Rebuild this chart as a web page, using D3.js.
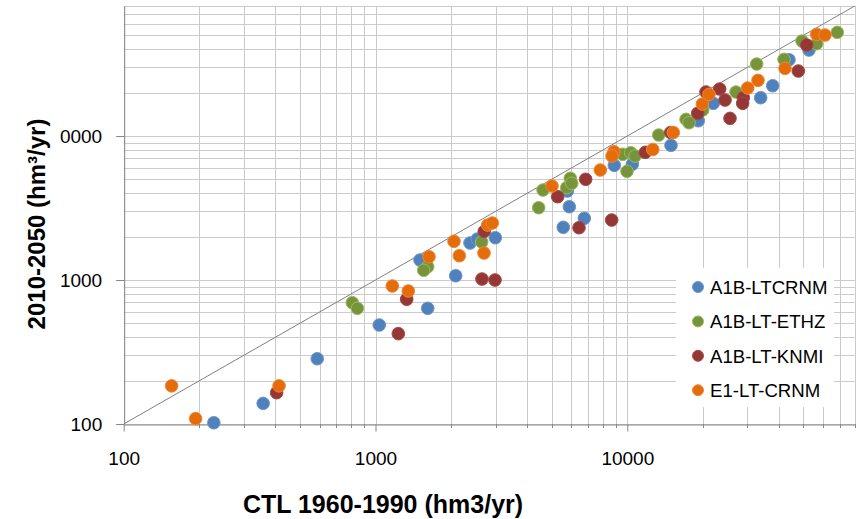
<!DOCTYPE html>
<html>
<head>
<meta charset="utf-8">
<script src="https://cdn.jsdelivr.net/npm/d3@7"></script>
<style>
  html, body { margin: 0; padding: 0; background: #fff; }
  svg { display: block; }
</style>
</head>
<body>
<svg id="chart" width="864" height="519"></svg>
<script>
// series names and values (hm3/yr)
const seriesNames = ["A1B-LTCRNM", "A1B-LT-ETHZ", "A1B-LT-KNMI", "E1-LT-CRNM"]
const seriesColors = ["#4f81bd", "#77933c", "#953735", "#e46c0a"]
const seriesStroke = ["#6f97c9", "#9bbb59", "#a54a48", "#ef8734"]

const crnmCtl = [228, 358, 587, 1035, 1612, 1502, 2082, 2373, 2537, 2991, 5568, 5885, 6750, 5777, 8880, 10470, 14910, 19140, 21960, 33860, 37800, 43870, 52670]
const crnmFut = [102, 139, 284, 487, 636, 1377, 1071, 1807, 1926, 1967, 2323, 3228, 2683, 4150, 6259, 6360, 8620, 12770, 16870, 18450, 22350, 33870, 39560]

const ethzCtl = [809, 847, 1612, 1554, 2641, 4447, 4627, 5745, 5938, 6015, 9588, 10316, 10730, 9972, 13330, 17110, 17580, 19930, 27020, 32650, 41910, 49410, 56520, 68230]
const ethzFut = [696, 636, 1237, 1168, 1836, 3177, 4217, 4375, 5085, 4694, 7463, 7656, 7262, 5686, 10160, 13060, 12370, 15160, 20210, 31620, 34080, 45660, 43750, 52500]

const knmiCtl = [405, 1232, 1330, 2704, 2648, 2983, 5291, 6430, 6834, 8670, 11790, 14870, 19040, 20540, 23280, 24440, 25580, 28880, 28720, 47770, 51580]
const knmiFut = [165, 424, 735, 2178, 1016, 1000, 3789, 2308, 5004, 2610, 7705, 10580, 14380, 20210, 21210, 17780, 13270, 18450, 16870, 28280, 42850]

const e1Ctl = [155, 193, 414, 1166, 1350, 1631, 2050, 2152, 2697, 2790, 2910, 5023, 7812, 8856, 8696, 12620, 15230, 19860, 21110, 30070, 33040, 42300, 56520, 60980]
const e1Fut = [184, 109, 184, 909, 839, 1451, 1857, 1475, 1540, 2409, 2488, 4497, 5806, 7780, 7262, 8058, 10580, 16680, 19480, 21540, 24370, 29520, 50850, 50280]

const axisMin = 100
const axisMax = 80000
const majorTicks = [100, 1000, 10000]

const allCtl = [crnmCtl, ethzCtl, knmiCtl, e1Ctl]
const allFut = [crnmFut, ethzFut, knmiFut, e1Fut]

const svg = d3.select("#chart")

const plot = { left: 123.7, right: 854.7, top: 6, bottom: 424 }

const x = d3.scaleLog().domain([axisMin, axisMax]).range([plot.left, plot.right])
const y = d3.scaleLog().domain([axisMin, axisMax]).range([plot.bottom, plot.top])

// minor + major grid values (1..9 x each decade)
let gridVals = []
majorTicks.forEach(d => {
    for (let k = 1; k <= 9; k++) {
        let v = d * k
        if (v >= axisMin && v <= axisMax) gridVals.push(v)
    }
})
gridVals.push(axisMax)

const grid = svg.append("g").attr("stroke", "#cbcbcb").attr("stroke-width", 1)
grid.selectAll(".gx").data(gridVals).join("line")
    .attr("x1", d => Math.round(x(d)) + 0.5).attr("x2", d => Math.round(x(d)) + 0.5)
    .attr("y1", plot.top).attr("y2", plot.bottom)
grid.selectAll(".gy").data(gridVals).join("line")
    .attr("y1", d => Math.round(y(d)) + 0.5).attr("y2", d => Math.round(y(d)) + 0.5)
    .attr("x1", plot.left).attr("x2", plot.right)

// minor ticks under the x axis
svg.append("g").attr("stroke", "#868686")
    .selectAll("line").data(gridVals.filter(v => !majorTicks.includes(v))).join("line")
    .attr("x1", d => Math.round(x(d)) + 0.5).attr("x2", d => Math.round(x(d)) + 0.5)
    .attr("y1", plot.bottom).attr("y2", plot.bottom + 4)

// 1:1 line
svg.append("line")
    .attr("x1", x(axisMin)).attr("y1", y(axisMin))
    .attr("x2", x(axisMax)).attr("y2", y(axisMax))
    .attr("stroke", "#808080").attr("stroke-width", 1)

// axes
const xAxis = svg.append("g")
    .attr("transform", `translate(0,${plot.bottom + 0.5})`)
    .call(d3.axisBottom(x).tickValues(majorTicks).tickFormat(d3.format("d")).tickSize(7).tickSizeOuter(0).tickPadding(20))
xAxis.select(".domain").attr("stroke", "#868686")
xAxis.selectAll(".tick line").attr("stroke", "#868686")
xAxis.selectAll("text").attr("font-family", "Liberation Sans, Arial, sans-serif")
    .attr("font-size", "19px").attr("fill", "#000")

const yAxis = svg.append("g")
    .attr("transform", `translate(${plot.left + 0.5},0)`)
    .call(d3.axisLeft(y).tickValues(majorTicks).tickFormat(d3.format("d")).tickSize(8).tickSizeOuter(0).tickPadding(14))
yAxis.select(".domain").attr("stroke", "#868686")
yAxis.selectAll(".tick line").attr("stroke", "#868686")
yAxis.selectAll("text").attr("font-family", "Liberation Sans, Arial, sans-serif")
    .attr("font-size", "19px").attr("fill", "#000")

// points, series drawn in order so the last sits on top
seriesNames.forEach((name, si) => {
    const pts = allCtl[si].map((v, i) => [v, allFut[si][i]])
    svg.append("g").selectAll("circle").data(pts).join("circle")
        .attr("cx", d => x(d[0])).attr("cy", d => y(d[1]))
        .attr("r", 6.3)
        .attr("fill", seriesColors[si])
        .attr("stroke", seriesStroke[si]).attr("stroke-width", 1)
})

// legend
const legend = svg.append("g")
legend.append("rect").attr("x", 676).attr("y", 268).attr("width", 158).attr("height", 139).attr("fill", "#fff")
seriesNames.forEach((name, si) => {
    let ly = 287 + si * 34.4
    legend.append("circle").attr("cx", 698).attr("cy", ly).attr("r", 5.5)
        .attr("fill", seriesColors[si]).attr("stroke", seriesStroke[si]).attr("stroke-width", 1)
    legend.append("text").text(name)
        .attr("x", 710).attr("y", ly + 6.7)
        .attr("font-family", "Liberation Sans, Arial, sans-serif").attr("font-size", "18.6px")
})

// axis titles
svg.append("text").text("CTL 1960-1990 (hm3/yr)")
    .attr("x", 383).attr("y", 513)
    .attr("text-anchor", "middle")
    .attr("font-family", "Liberation Sans, Arial, sans-serif").attr("font-weight", "bold").attr("font-size", "25px")

// the title box hides the leading digit of the top y label
svg.append("rect").attr("x", 0).attr("y", 100).attr("width", 59).attr("height", 250).attr("fill", "#fff")
svg.append("text").text("2010-2050  (hm³/yr)")
    .attr("transform", "translate(45,224) rotate(-90)")
    .attr("text-anchor", "middle")
    .attr("font-family", "Liberation Sans, Arial, sans-serif").attr("font-weight", "bold").attr("font-size", "24px")
</script>
</body>
</html>
